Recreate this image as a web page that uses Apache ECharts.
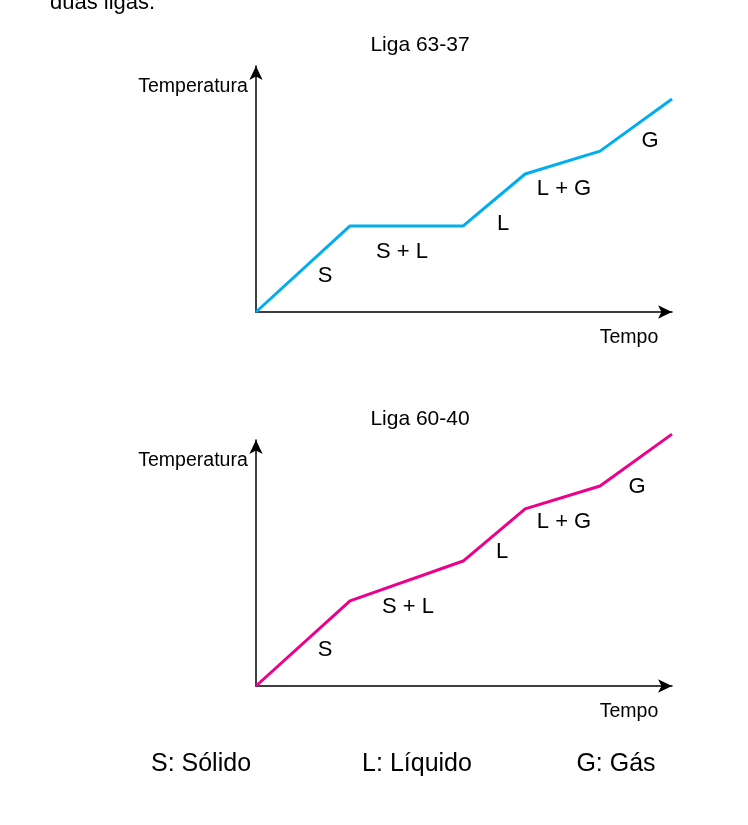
<!DOCTYPE html>
<html>
<head>
<meta charset="utf-8">
<script src="https://cdn.jsdelivr.net/npm/echarts@6/dist/echarts.min.js"></script>
<style>body{margin:0;background:#fff}#c{width:748px;height:825px}</style>
</head>
<body>
<div id="c"></div>
<script>
// tempo (0-100) e temperatura (0-100)
var tempo = [0, 22.6, 49.8, 64.7, 82.7, 100];
var liga6337 = [0, 35, 35, 56.1, 65.4, 86.6];
var liga6040 = [0, 34.6, 50.8, 72, 81.3, 102.4];

var chart = echarts.init(document.getElementById('c'));
var font = 'Liberation Sans, Arial, sans-serif';

function axes(i) {
    return {
        x: {gridIndex: i, type: 'value', min: 0, max: 100, axisLine: {lineStyle: {color: '#000', width: 1.5}, symbol: ['none', 'arrow'], symbolSize: [10, 14]}, axisTick: {show: false}, axisLabel: {show: false}, splitLine: {show: false}},
        y: {gridIndex: i, type: 'value', min: 0, max: 100, axisLine: {show: true, lineStyle: {color: '#000', width: 1.5}, symbol: ['none', 'arrow'], symbolSize: [10, 14]}, axisTick: {show: false}, axisLabel: {show: false}, splitLine: {show: false}}
    };
}
var a0 = axes(0), a1 = axes(1);

function txt(x, y, s, size) {
    return {type: 'text', x: x, y: y, style: {text: s, font: (size || 17) + 'px ' + font, fill: '#000', textAlign: 'center', textVerticalAlign: 'middle'}};
}

chart.setOption({
    animation: false,
    grid: [
        {left: 256, width: 416, top: 66, height: 246},
        {left: 256, width: 416, top: 440, height: 246}
    ],
    xAxis: [a0.x, a1.x],
    yAxis: [a0.y, a1.y],
    series: [
        {type: 'line', xAxisIndex: 0, yAxisIndex: 0, clip: false, symbol: 'none', lineStyle: {color: '#00aeef', width: 3},
            data: tempo.map(function (t, i) { return [t, liga6337[i]]; })},
        {type: 'line', xAxisIndex: 1, yAxisIndex: 1, clip: false, symbol: 'none', lineStyle: {color: '#ec008c', width: 3},
            data: tempo.map(function (t, i) { return [t, liga6040[i]]; })}
    ],
    graphic: [
        {type: 'text', x: 50, y: -8, style: {text: 'duas ligas.', font: '22px ' + font, fill: '#000'}},
        txt(420, 45, 'Liga 63-37', 21),
        txt(193, 87, 'Temperatura', 19.5),
        txt(629, 338, 'Tempo', 19.5),
        txt(325, 276, 'S', 22), txt(402, 252, 'S + L', 22), txt(503, 224, 'L', 22),
        txt(564, 189, 'L + G', 22), txt(650, 141, 'G', 22),
        txt(420, 419, 'Liga 60-40', 21),
        txt(193, 461, 'Temperatura', 19.5),
        txt(629, 712, 'Tempo', 19.5),
        txt(325, 650, 'S', 22), txt(408, 607, 'S + L', 22), txt(502, 552, 'L', 22),
        txt(564, 522, 'L + G', 22), txt(637, 487, 'G', 22),
        txt(201, 764, 'S: Sólido', 25), txt(417, 764, 'L: Líquido', 25), txt(616, 764, 'G: Gás', 25)
    ]
});
</script>
</body>
</html>
